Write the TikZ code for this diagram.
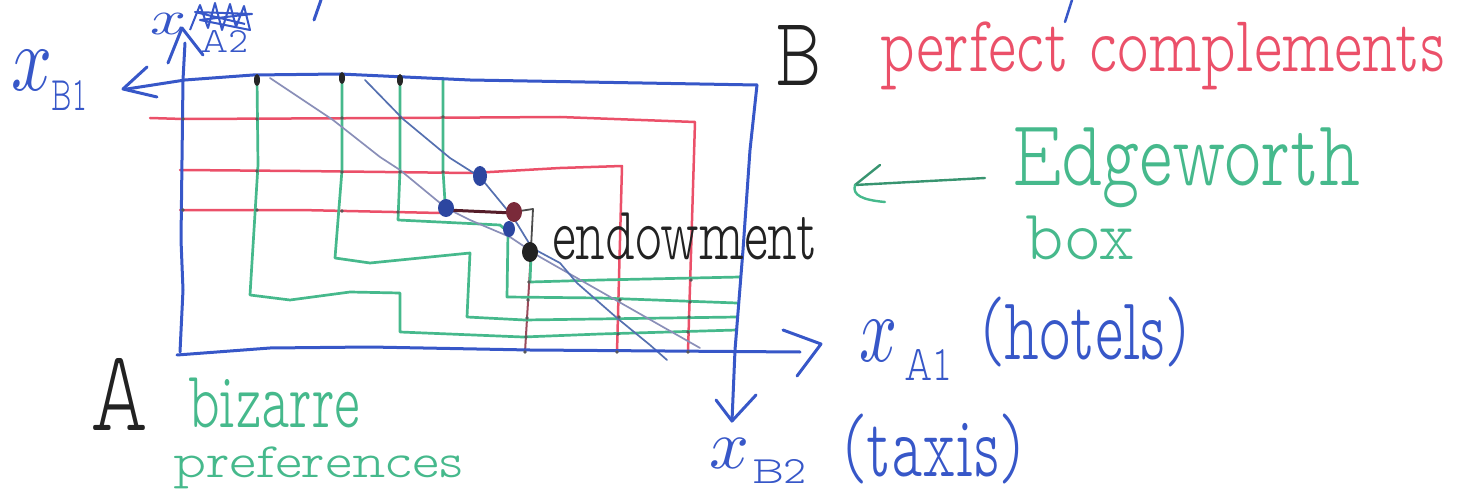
\documentclass[tikz,border=0pt]{standalone}
\usepackage{fontspec}
\usepackage{graphicx}
\setmainfont{lmmonoproplt10-regular.otf}
\definecolor{cblue}{HTML}{3757C8}
\definecolor{cred}{HTML}{EB5069}
\definecolor{cgreen}{HTML}{46B98C}
\definecolor{cdiagA}{HTML}{8A8FB8}
\definecolor{cdiagB}{HTML}{5570B0}
\definecolor{cink}{HTML}{222222}
\definecolor{cmaroon}{HTML}{7A2A3A}
\definecolor{cdkred}{HTML}{9A4A5A}
\newcommand{\fitto}[3]{\resizebox*{#1}{#2}{#3}}
\begin{document}
\begin{tikzpicture}[x=1pt,y=-1pt,
  bl/.style={draw=cblue,line width=3pt,line cap=round,line join=round},
  rd/.style={draw=cred,line width=2.5pt,line cap=round,line join=round},
  gr/.style={draw=cgreen,line width=2.7pt,line cap=round,line join=round},
  dga/.style={draw=cdiagA,line width=1.7pt,line cap=round,line join=round},
  dgb/.style={draw=cdiagB,line width=1.7pt,line cap=round,line join=round},
  lbl/.style={anchor=north west,inner sep=0pt,outer sep=0pt},
  xmark/.style={fill=black!65,draw=none}]
\useasboundingbox (0,0) rectangle (1468,492);

% ---- red (B) indifference curves
\draw[rd] (150,118) -- (183,119) -- (400,118) -- (560,117) -- (695,122) -- (688,352);
\draw[rd] (180,170) -- (300,171) -- (470,173) -- (490,172) -- (560,168) -- (622,166) -- (617,352);
\draw[rd] (180,210) -- (300,210) -- (440,213);
\draw[draw=cdkred,line width=2pt] (531,252) -- (525,352);

% ---- green (A) indifference curves
\draw[gr] (257,78) -- (258,165) -- (250,295) -- (290,300) -- (350,292) -- (400,293) -- (400,332) -- (523,337) -- (600,334) -- (737,330);
\draw[gr] (342,76) -- (342,170) -- (335,258) -- (370,263) -- (470,253) -- (467,317) -- (525,320) -- (737,317);
\draw[gr] (400,78) -- (400,170) -- (398,220) -- (500,225) -- (508,232) -- (507,297) -- (600,298) -- (737,303);
\draw[gr] (443,78) -- (443,170) -- (445,202);
\draw[gr] (531,256) -- (530,282) -- (600,280) -- (740,277);

% ---- budget lines
\draw[dga] (270,78) -- (333,120) -- (380,157) -- (400,170) -- (440,203) -- (446,208) -- (470,220) -- (510,237) -- (540,257) -- (700,348);
\draw[dgb] (365,80) -- (403,119) -- (450,158) -- (480,177) -- (513,217) -- (532,248) -- (560,263) -- (577,283) -- (617,318) -- (650,345) -- (667,360);

% ---- dark segments near the endowment
\draw[draw=cmaroon!70!black,line width=3pt,line cap=round] (446,210) -- (513,213);
\draw[draw=black!70,line width=1.8pt,line join=round] (513,212) -- (533,209) -- (531,248);

% ---- box and axes
\draw[bl] (180,352) -- (183,290) -- (181,240) -- (183,80) -- (185,43);
\draw[bl] (168,63) -- (182,28) -- (203,55);
\draw[bl] (127,89) -- (185,80) -- (253,75) -- (340,74) -- (470,80) -- (757,85);
\draw[bl] (147,67) -- (123,89) -- (157,97);
\draw[bl] (757,85) -- (750,150) -- (743,250) -- (735,350) -- (732,421);
\draw[bl] (716,400) -- (732,421) -- (756,395);
\draw[bl] (177,355) -- (270,348) -- (370,347) -- (530,350) -- (800,352);
\draw[bl] (783,330) -- (821,344) -- (797,376);

% ---- tick blobs on the top edge
\foreach \p in {(257,80),(342,78),(400,80)} \fill[black!85] \p ellipse (3pt and 6pt);

% ---- intersection marks
\foreach \p in {(183,119),(257,119),(342,118),(400,118),(443,117),
  (257,171),(342,172),(400,172),(443,172),(183,210),(257,210),(342,211),(398,212),
  (691,280),(690,302),(689,317),(688,332),(620,300),(619,317),(618,334),
  (529,282),(528,300),(527,318),(526,337),(525,352),(617,352),(688,352)}
  \fill[xmark] \p circle (1.8pt);

% ---- points
\fill[cblue!80!black] (480,176) ellipse (7pt and 10pt);
\fill[cblue!80!black] (446,208) ellipse (8pt and 9pt);
\fill[cblue!80!black] (509,229) ellipse (6pt and 8pt);
\fill[cmaroon] (514,212) ellipse (8pt and 10pt);
\fill[cink] (530,252) ellipse (8pt and 10pt);

% ---- green arrow to the box
\draw[draw=cgreen!80!black,line width=2.4pt,line cap=round] (985,178) -- (855,185);
\draw[draw=cgreen!80!black,line width=2.4pt,line cap=round] (880,165) -- (855,185);
\draw[draw=cgreen,line width=2.4pt,line cap=round] (855,185) .. controls (852,195) and (862,200) .. (885,202);

% ---- stray strokes at the top edge
\draw[draw=cblue,line width=3pt,line cap=round] (321,0) -- (314,20);
\draw[draw=cblue,line width=2.5pt,line cap=round] (1072,0) -- (1065,22);

% ---- labels
\node[lbl,text=cblue] (xB1x) at (12,50) {\fitto{41pt}{40pt}{$x$}};
\node[lbl,text=cblue] (xB1s) at (52,80) {\fitto{35pt}{30pt}{B1}};
\node[lbl,text=cblue] (xA2x) at (150,13) {\fitto{36pt}{21pt}{$x$}};
\node[lbl,text=cblue] (xA2s) at (200,30) {\fitto{48pt}{22pt}{A2}};
\draw[draw=cblue,line width=2pt,line join=round] (190,30) -- (200,5) -- (208,28) -- (215,3) -- (222,30) -- (230,4) -- (236,27) -- (244,6) -- (250,30) -- (200,20) -- (252,14) -- (195,12) -- (245,24);
\node[lbl,text=cink] (Blbl) at (775,25) {\fitto{46pt}{60pt}{B}};
\node[lbl,text=cred] (perf) at (880,22) {\fitto{565pt}{68pt}{perfect complements}};
\node[lbl,text=cgreen] (edge) at (1012,128) {\fitto{348pt}{80pt}{Edgeworth}};
\node[lbl,text=cgreen] (boxl) at (1025,216) {\fitto{110pt}{44pt}{box}};
\node[lbl,text=cink] (endw) at (552,213) {\fitto{265pt}{47pt}{endowment}};
\node[lbl,text=cblue] (xA1x) at (859,320) {\fitto{38pt}{41pt}{$x$}};
\node[lbl,text=cblue] (xA1s) at (904,349) {\fitto{48pt}{31pt}{A1}};
\node[lbl,text=cblue] (hot) at (980,297) {\fitto{210pt}{70pt}{(hotels)}};
\node[lbl,text=cblue] (xB2x) at (709,438) {\fitto{40pt}{30pt}{$x$}};
\node[lbl,text=cblue] (xB2s) at (752,459) {\fitto{55pt}{24pt}{B2}};
\node[lbl,text=cblue] (tax) at (842,414) {\fitto{182pt}{70pt}{(taxis)}};
\node[lbl,text=cink] (Alb) at (90,358) {\fitto{58pt}{72pt}{A}};
\node[lbl,text=cgreen] (biz) at (188,378) {\fitto{172pt}{50pt}{bizarre}};
\node[lbl,text=cgreen] (pref) at (173,447) {\fitto{290pt}{42pt}{preferences}};
\end{tikzpicture}
\end{document}
